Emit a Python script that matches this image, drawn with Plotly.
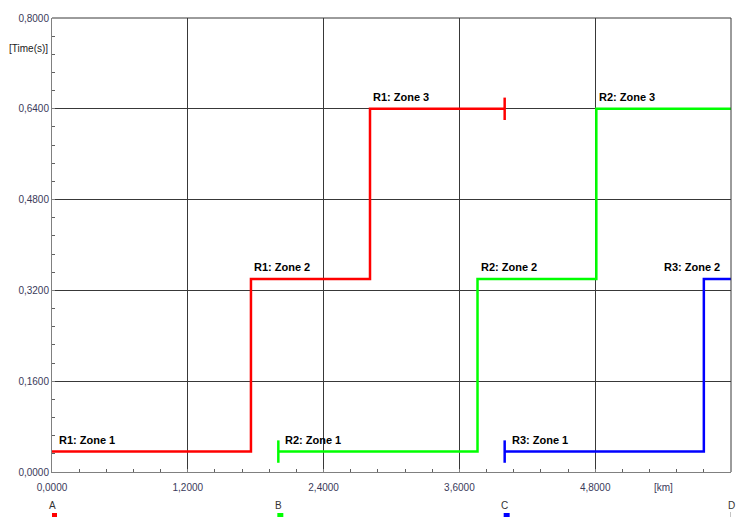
import plotly.graph_objects as go

# Relay tripping characteristic: time vs distance for three relays
relays = ["R1", "R2", "R3"]
colors = ["#FF0000", "#00FF00", "#0000FF"]

# Step breakpoints (km) and operating times (s) for each relay
r1_km = [0.0, 1.758, 2.81, 4.0]
r1_t = [0.036, 0.34, 0.64, 0.64]
r2_km = [2.0, 3.76, 4.81, 6.0]
r2_t = [0.036, 0.34, 0.64, 0.64]
r3_km = [4.0, 5.76, 6.0]
r3_t = [0.036, 0.34, 0.34]

series_km = [r1_km, r2_km, r3_km]
series_t = [r1_t, r2_t, r3_t]

# Zone labels per relay, one per step segment
zone_labels = [
    ["R1: Zone 1", "R1: Zone 2", "R1: Zone 3"],
    ["R2: Zone 1", "R2: Zone 2", "R2: Zone 3"],
    ["R3: Zone 1", "R3: Zone 2"],
]

# Bus markers along the line
bus_names = ["A", "B", "C", "D"]
bus_km = [0.0, 2.0, 4.0, 6.0]
bus_colors = ["#FF0000", "#00FF00", "#0000FF", None]

x_ticks = [0.0, 1.2, 2.4, 3.6, 4.8, 6.0]
y_ticks = [0.0, 0.16, 0.32, 0.48, 0.64, 0.8]

tick_color = "#3a3a5a"
grid_color = "#383838"
label_font = dict(family="Liberation Sans", size=11, color="black")

fig = go.Figure()

for km, t, c in zip(series_km, series_t, colors):
    fig.add_trace(go.Scatter(
        x=km, y=t, mode="lines", line=dict(color=c, width=2.5, shape="hv"),
        showlegend=False, hoverinfo="skip",
    ))

# End caps where a characteristic starts or stops inside the plot
caps = [(r1_km[-1], r1_t[-1], colors[0]),
        (r2_km[0], r2_t[0], colors[1]),
        (r3_km[0], r3_t[0], colors[2])]
fig.add_trace(go.Scatter(
    x=[c[0] for c in caps], y=[c[1] for c in caps], mode="markers",
    marker=dict(symbol="line-ns", size=16,
                line=dict(width=2.5, color=[c[2] for c in caps])),
    showlegend=False, hoverinfo="skip", cliponaxis=False,
))

annotations = []
for km, t, labels in zip(series_km, series_t, zone_labels):
    for i, text in enumerate(labels):
        short_tail = (i == len(labels) - 1 and km[-1] - km[i] < 0.5)
        if short_tail:
            # segment too short near the right edge: right-align the label
            annotations.append(dict(
                x=km[-1], y=t[i], text="<b>%s</b>" % text, showarrow=False,
                xanchor="right", yanchor="bottom", xshift=-9, yshift=4,
                font=label_font,
            ))
        else:
            shift = 5 if i == 0 else 1
            annotations.append(dict(
                x=km[i], y=t[i], text="<b>%s</b>" % text, showarrow=False,
                xanchor="left", yanchor="bottom", xshift=shift, yshift=4,
                font=label_font,
            ))

annotations.append(dict(
    x=0, y=(472 - 45) / 458, xref="paper", yref="paper", text="[Time(s)]",
    showarrow=False, xanchor="right", yanchor="middle", xshift=-2,
    font=dict(family="Liberation Sans", size=10, color="#222222"),
))
annotations.append(dict(
    x=5.4, y=0, xref="x", yref="paper", text="[km]", showarrow=False,
    xanchor="center", yanchor="middle", yshift=-15,
    font=dict(family="Liberation Sans", size=10, color=tick_color),
))

shapes = [
    # frame edges on top and right
    dict(type="line", xref="paper", yref="paper", x0=0, x1=1, y0=1, y1=1,
         line=dict(color=grid_color, width=1)),
    dict(type="line", xref="paper", yref="paper", x0=1, x1=1, y0=0, y1=1,
         line=dict(color=grid_color, width=1)),
]
for name, km, c in zip(bus_names, bus_km, bus_colors):
    annotations.append(dict(
        x=km, y=0, xref="x", yref="paper", text=name, showarrow=False,
        xanchor="center", yanchor="middle", yshift=-33,
        font=dict(family="Liberation Sans", size=10, color="#333333"),
    ))
    if c is not None:
        shapes.append(dict(
            type="rect", xref="x", yref="paper", xsizemode="pixel",
            ysizemode="pixel", xanchor=km, yanchor=0,
            x0=-1, x1=5, y0=-41, y1=-46, fillcolor=c, line=dict(width=0),
        ))
    else:
        shapes.append(dict(
            type="line", xref="x", yref="paper", ysizemode="pixel",
            yanchor=0, x0=km, x1=km, y0=-40, y1=-46,
            line=dict(color="#888888", width=1),
        ))

fig.update_layout(
    width=745, height=517,
    margin=dict(l=52, r=14, t=14, b=45),
    paper_bgcolor="white", plot_bgcolor="white",
    separators=",.",
    annotations=annotations, shapes=shapes,
    font=dict(family="Liberation Sans", size=10, color=tick_color),
)

fig.update_xaxes(
    range=[0, 6.0], tickvals=x_ticks, tickformat=".4f",
    showgrid=True, gridcolor=grid_color, gridwidth=1,
    showline=True, linecolor="#808080", linewidth=1,
    ticks="inside", ticklen=3, tickcolor="#808080",
    minor=dict(dtick=0.24, ticks="inside", ticklen=3, tickcolor="#606060", showgrid=False),
    ticklabelstandoff=6, zeroline=False,
    tickfont=dict(family="Liberation Sans", size=10, color=tick_color),
)
fig.update_yaxes(
    range=[0, 0.8], tickvals=y_ticks, tickformat=".4f",
    showgrid=True, gridcolor=grid_color, gridwidth=1,
    showline=True, linecolor="#808080", linewidth=1,
    ticks="inside", ticklen=3, tickcolor="#808080",
    minor=dict(dtick=0.032, ticks="inside", ticklen=3, tickcolor="#606060", showgrid=False),
    zeroline=False,
    tickfont=dict(family="Liberation Sans", size=10, color=tick_color),
)

fig.write_html("out.html")
